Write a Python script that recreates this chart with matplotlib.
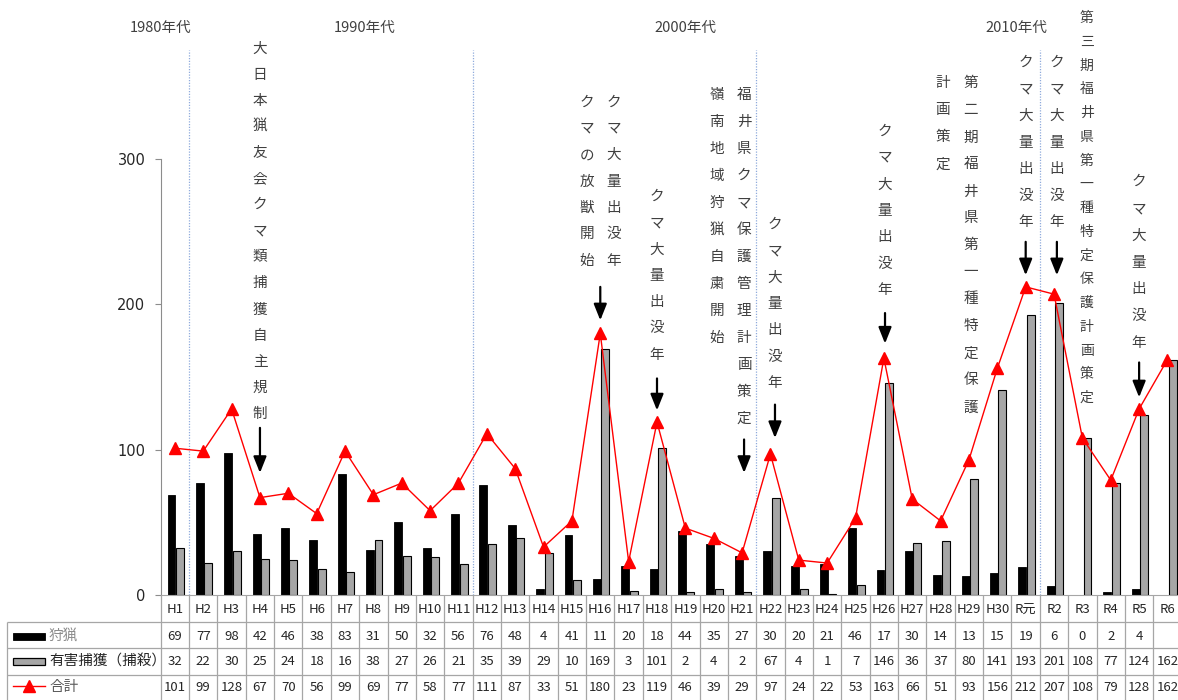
import numpy as np
import matplotlib
matplotlib.use("Agg")
import matplotlib.pyplot as plt
from matplotlib.transforms import ScaledTranslation
from matplotlib.patches import Rectangle
from matplotlib.lines import Line2D

plt.rcParams['font.family'] = ['Noto Sans CJK JP', 'DejaVu Sans']

# ---- data -------------------------------------------------------------
years = ['H1', 'H2', 'H3', 'H4', 'H5', 'H6', 'H7', 'H8', 'H9', 'H10',
         'H11', 'H12', 'H13', 'H14', 'H15', 'H16', 'H17', 'H18', 'H19', 'H20',
         'H21', 'H22', 'H23', 'H24', 'H25', 'H26', 'H27', 'H28', 'H29', 'H30',
         'R元', 'R2', 'R3', 'R4', 'R5', 'R6']
hunting = [69, 77, 98, 42, 46, 38, 83, 31, 50, 32, 56, 76, 48, 4, 41,
           11, 20, 18, 44, 35, 27, 30, 20, 21, 46, 17, 30, 14, 13, 15,
           19, 6, 0, 2, 4, None]
nuisance = [32, 22, 30, 25, 24, 18, 16, 38, 27, 26, 21, 35, 39, 29, 10,
            169, 3, 101, 2, 4, 2, 67, 4, 1, 7, 146, 36, 37, 80, 141,
            193, 201, 108, 77, 124, 162]
total = [101, 99, 128, 67, 70, 56, 99, 69, 77, 58, 77, 111, 87, 33, 51,
         180, 23, 119, 46, 39, 29, 97, 24, 22, 53, 163, 66, 51, 93, 156,
         212, 207, 108, 79, 128, 162]

series_names = ['狩猟', '有害捕獲（捕殺）', '合計']
yticks = [0, 100, 200, 300]

decade_labels = ['1980年代', '1990年代', '2000年代', '2010年代']
decade_label_x = [-0.49, 6.71, 18.02, 29.69]
decade_breaks = ['H2', 'H12', 'H22', 'R2']   # first year of the next decade

# vertical notes: (year, column shift, text, top y, char pitch px, font size)
notes = [
    ('H4', 0.0, '大日本猟友会クマ類捕獲自主規制', 376, 26.1, 10.5),
    ('H16', 0.48, 'クマ大量出没年', 339, 26.4, 10.5),
    ('H16', -0.48, 'クマの放獣開始', 339, 26.4, 10.5),
    ('H18', 0.0, 'クマ大量出没年', 274, 26.3, 10.5),
    ('H21', 0.07, '福井県クマ保護管理計画策定', 344, 27.0, 10.5),
    ('H21', -0.9, '嶺南地域狩猟自粛開始', 344, 27.0, 10.5),
    ('H22', 0.16, 'クマ大量出没年', 254.5, 26.3, 10.5),
    ('H26', 0.04, 'クマ大量出没年', 319, 26.5, 10.5),
    ('H29', 0.06, '第二期福井県第一種特定保護', 352, 27.0, 10.5),
    ('H28', 0.08, '計画策定', 352, 27.0, 10.5),
    ('R元', 0.0, 'クマ大量出没年', 366, 26.5, 10.5),
    ('R2', 0.1, 'クマ大量出没年', 366, 26.5, 10.5),
    ('R3', 0.15, '第三期福井県第一種特定保護計画策定', 397, 23.75, 10),
    ('R5', 0.0, 'クマ大量出没年', 284, 26.8, 10.5),
]
# arrows: (year, column shift, y start, y end)
arrows = [
    ('H4', 0.0, 115, 84),
    ('H16', 0.0, 212, 189),
    ('H18', 0.0, 149, 127),
    ('H21', 0.07, 107, 84),
    ('H22', 0.16, 131, 108),
    ('H26', 0.04, 194, 173),
    ('R元', 0.0, 243, 220),
    ('R2', 0.1, 243, 220),
    ('R5', 0.0, 160, 136),
]

# ---- figure layout ------------------------------------------------------
W, H = 1178, 700
fig = plt.figure(figsize=(W / 100, H / 100), dpi=100)
n = len(years)
cw = 28.36                      # column width in px
x0_px = 160.7                   # left edge of plot area in px
ax_left = x0_px / W
ax_w = n * cw / W
ax = fig.add_axes([ax_left, 105 / H, ax_w, 436 / H])
x = np.arange(n)

ax.set_xlim(-0.5, n - 0.5)
ax.set_ylim(0, 300)

hunt_vals = np.array([np.nan if v is None else v for v in hunting], dtype=float)
bw = 0.28
ax.bar(x - 0.12, hunt_vals, width=bw, color='black', edgecolor='black',
       linewidth=0.6, zorder=2)
ax.bar(x + 0.18, nuisance, width=bw, color='#A6A6A6', edgecolor='black',
       linewidth=0.8, zorder=2)
ax.plot(x, total, color='#FF0000', lw=1.0, marker='^', markersize=9,
        markerfacecolor='#FF0000', markeredgecolor='#FF0000', zorder=3,
        clip_on=False)

# axes styling
for s in ['top', 'right']:
    ax.spines[s].set_visible(False)
ax.spines['left'].set_color('#8C8C8C')
ax.spines['bottom'].set_color('#A6A6A6')
ax.set_yticks(yticks)
ax.set_yticklabels([str(v) for v in yticks], fontsize=10.5, color='#262626',
                   family=['DejaVu Sans'])
ax.tick_params(axis='y', direction='out', length=4, width=0.8,
               color='#8C8C8C', pad=7)
ax.set_xticks([])

idx = {y: i for i, y in enumerate(years)}

# decade separators and labels
for yb in decade_breaks:
    ax.plot([idx[yb] - 0.5] * 2, [0, 375], color='#8FAADC', lw=0.9,
            ls=(0, (1, 1.2)), clip_on=False, zorder=1)
for lab, lx in zip(decade_labels, decade_label_x):
    ax.text(lx, 390, lab, ha='center', va='center', fontsize=10.5,
            color='#404040', clip_on=False)

# vertical notes
note_color = '#404040'
for yr, dx, txt, ytop, pitch, fs in notes:
    for k, ch in enumerate(txt):
        tr = ax.transData + ScaledTranslation(0, -k * pitch / 100,
                                              fig.dpi_scale_trans)
        ax.text(idx[yr] + dx, ytop, ch, transform=tr, ha='center',
                va='center', fontsize=fs, color=note_color, clip_on=False)

for yr, dx, ys, ye in arrows:
    ax.annotate('', xy=(idx[yr] + dx, ye), xytext=(idx[yr] + dx, ys),
                arrowprops=dict(arrowstyle='-|>,head_length=0.7,head_width=0.28',
                                color='black', lw=1.6, shrinkA=0, shrinkB=0,
                                mutation_scale=14),
                annotation_clip=False)

# ---- data table below the plot -----------------------------------------
tab = fig.add_axes([ax_left, (H - 701) / H, ax_w, 106 / H])
tab.set_xlim(-0.5, n - 0.5)
tab.set_ylim(4, 0)
tab.axis('off')


def px2x(px):
    return -0.5 + (px - x0_px) / cw


grid_c = '#A6A6A6'
xl = px2x(7)
tab.vlines(np.arange(n + 1) - 0.5, 0, 4, color=grid_c, lw=0.9, clip_on=False)
tab.vlines([xl], 1, 4, color=grid_c, lw=0.9, clip_on=False)
tab.hlines([1, 2, 3, 4], xl, n - 0.5, color=grid_c, lw=0.9, clip_on=False)

cell_fs = 9.5
for i, yr in enumerate(years):
    tab.text(i, 0.55, yr, ha='center', va='center', fontsize=cell_fs,
             color='#262626', clip_on=False)
    h = hunting[i]
    if h is not None:
        tab.text(i, 1.55, str(h), ha='center', va='center', fontsize=cell_fs,
                 color='#262626', clip_on=False)
    tab.text(i, 2.52, str(nuisance[i]), ha='center', va='center',
             fontsize=cell_fs, color='#262626', clip_on=False)
    tab.text(i, 3.48, str(total[i]), ha='center', va='center',
             fontsize=cell_fs, color='#262626', clip_on=False)

# legend keys in the first column
kx0, kx1 = px2x(12.7), px2x(45)
tab.add_patch(Rectangle((kx0, 1.42), kx1 - kx0, 0.26, facecolor='black',
                        edgecolor='black', lw=0.6, clip_on=False))
tab.add_patch(Rectangle((kx0, 2.38), kx1 - kx0, 0.26, facecolor='#A6A6A6',
                        edgecolor='black', lw=0.9, clip_on=False))
tab.add_line(Line2D([kx0, kx1], [3.45, 3.45], color='#FF0000', lw=1.0,
                    clip_on=False))
tab.add_line(Line2D([(kx0 + kx1) / 2], [3.45], color='#FF0000', marker='^',
                    markersize=8, clip_on=False))
label_colors = ['#8C8C8C', '#262626', '#595959']
for r, (name, c) in enumerate(zip(series_names, label_colors)):
    tab.text(px2x(49), [1.55, 2.52, 3.48][r], name, ha='left', va='center',
             fontsize=10.5, color=c, clip_on=False)

fig.savefig('out.png', dpi=100)
